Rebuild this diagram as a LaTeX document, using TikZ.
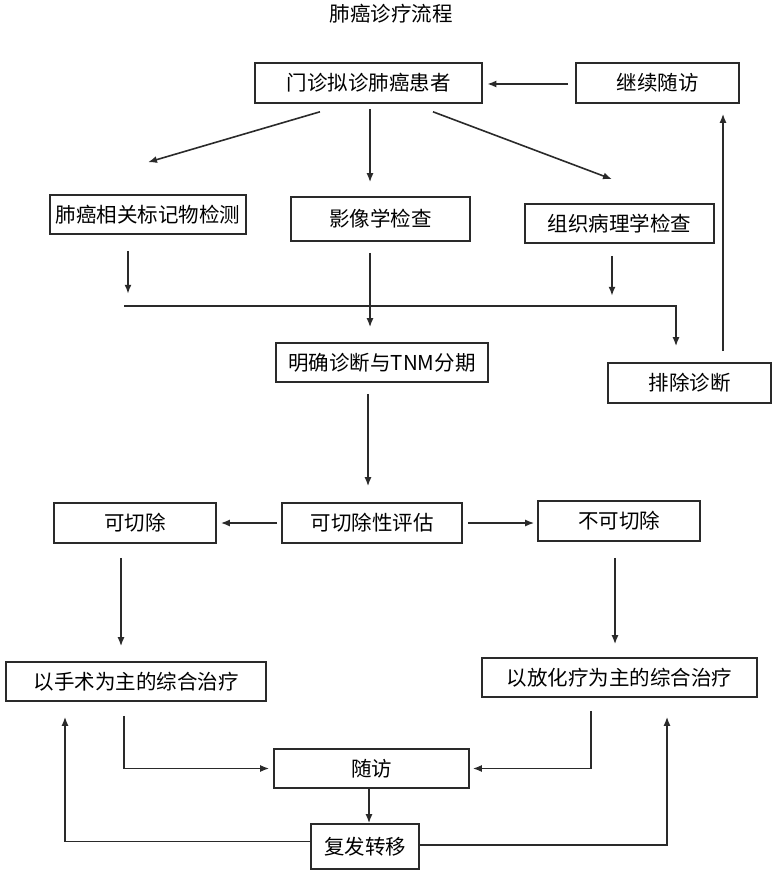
\documentclass[tikz,border=0pt]{standalone}
\usepackage{fontspec}
\setmainfont{Noto Sans CJK SC}
\usetikzlibrary{arrows.meta}
\definecolor{ln}{HTML}{2A2A2A}
\tikzset{
  box/.style={draw=ln, line width=1.6pt, rectangle, inner sep=0pt, font=\fontsize{20.5}{24}\selectfont, text=black},
  arr/.style={draw=ln, line width=1.6pt, -{Latex[length=9pt,width=7pt]}},
  ln/.style={draw=ln, line width=1.6pt}
}
\begin{document}
\begin{tikzpicture}[x=1pt,y=-1pt]
\useasboundingbox (0,0) rectangle (778,877);
\node[font=\fontsize{20.5}{24}\selectfont] (title) at (391,14) {肺癌诊疗流程};
\node[box, minimum width=227pt, minimum height=40pt] (A) at (368.5,83) {门诊拟诊肺癌患者};
\node[box, minimum width=163pt, minimum height=40pt] (B) at (657.5,83) {继续随访};
\node[box, minimum width=196pt, minimum height=39pt] (C) at (148,214.5) {肺癌相关标记物检测};
\node[box, minimum width=179pt, minimum height=44pt] (D) at (380.5,219) {影像学检查};
\node[box, minimum width=189pt, minimum height=39pt] (E) at (619.5,223.5) {组织病理学检查};
\node[box, minimum width=212pt, minimum height=39pt] (F) at (382,362.5) {明确诊断与TNM分期};
\node[box, minimum width=163pt, minimum height=40pt] (G) at (689.5,383) {排除诊断};
\node[box, minimum width=162pt, minimum height=40pt] (H) at (135,523) {可切除};
\node[box, minimum width=180pt, minimum height=40pt] (I) at (372,523) {可切除性评估};
\node[box, minimum width=162pt, minimum height=40pt] (J) at (619,521) {不可切除};
\node[box, minimum width=260pt, minimum height=39pt] (K) at (136,681.5) {以手术为主的综合治疗};
\node[box, minimum width=275pt, minimum height=39pt] (L) at (619.5,677.5) {以放化疗为主的综合治疗};
\node[box, minimum width=195pt, minimum height=39pt] (M) at (371.5,768.5) {随访};
\node[box, minimum width=108pt, minimum height=45pt] (N) at (365,846.5) {复发转移};
% top arrows
\draw[arr] ([shift={(-7pt,-1pt)}]B.west) -- ([xshift=4.5pt,yshift=-1pt]A.east);
\draw[arr] ([shift={(-48.5pt,-8pt)}]A.south) -- ([yshift=32pt]C.north);
\draw[arr] ([shift={(1.5pt,-5pt)}]A.south) -- ([shift={(-10.5pt,14pt)}]D.north);
\draw[arr] ([shift={(64.5pt,-8pt)}]A.south) -- ([shift={(-7.5pt,24pt)}]E.north);
% below tests
\draw[arr] ([shift={(-20pt,-16pt)}]C.south) -- ([shift={(-20pt,-59pt)}]C.south);
\draw[arr] ([shift={(-7.5pt,-12pt)}]E.south) -- ([shift={(-7.5pt,-52pt)}]E.south);
\draw[arr] ([shift={(-10.5pt,-11pt)}]D.south) -- ([shift={(-12pt,15pt)}]F.north);
\coordinate (hl) at (124,306);
\draw[arr] (hl) -| ([shift={(-13.5pt,16pt)}]G.north);
\draw[arr] ([shift={(33.5pt,11pt)}]G.north) -- ([shift={(65.5pt,-10pt)}]B.south);
% resectability
\draw[arr] ([shift={(-14pt,-11pt)}]F.south) -- ([shift={(-4pt,16pt)}]I.north);
\draw[arr] ([xshift=-4pt]I.west) -- ([xshift=4pt]H.east);
\draw[arr] ([xshift=5pt]I.east) -- ([shift={(-3pt,-2pt)}]J.west);
\draw[arr] ([shift={(-14pt,-14pt)}]H.south) -- ([shift={(-15pt,15pt)}]K.north);
\draw[arr] ([shift={(-4pt,-16pt)}]J.south) -- ([shift={(-4.5pt,13pt)}]L.north);
% follow-up
\draw[arr] ([shift={(-12pt,-14pt)}]K.south) |- ([xshift=-4pt]M.west);
\draw[arr] ([shift={(-28.5pt,-13pt)}]L.south) |- ([xshift=3pt]M.east);
\draw[arr] ([xshift=-2.5pt]M.south) -- ([xshift=4pt]N.north);
\draw[arr] ([yshift=5pt]N.west) -| ([shift={(-71pt,-15pt)}]K.south);
\draw[arr] ([yshift=1.5pt]N.east) -| ([shift={(47.5pt,-19pt)}]L.south);
\end{tikzpicture}
\end{document}
